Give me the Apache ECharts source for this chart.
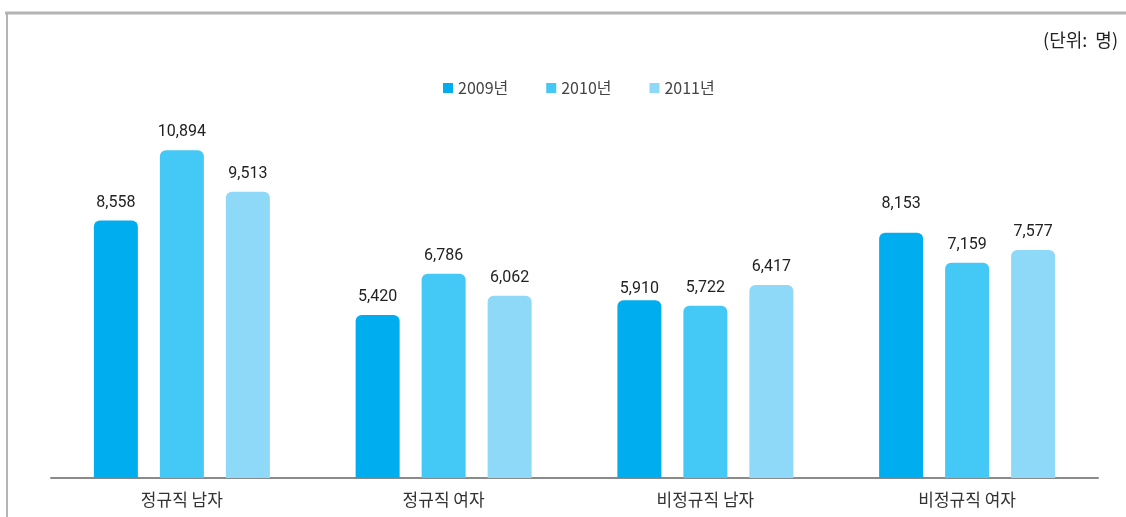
<!DOCTYPE html>
<html>
<head>
<meta charset="utf-8">
<script src="https://cdn.jsdelivr.net/npm/echarts@6/dist/echarts.min.js"></script>
<style>
  html, body { margin: 0; padding: 0; background: #fff; }
  #chart { width: 1126px; height: 517px; }
</style>
</head>
<body>
<div id="chart"></div>
<script>
// 카테고리, 연도별 값
const categories = ['정규직 남자', '정규직 여자', '비정규직 남자', '비정규직 여자'];
const years = ['2009년', '2010년', '2011년'];
const values2009 = [8558, 5420, 5910, 8153];
const values2010 = [10894, 6786, 5722, 7159];
const values2011 = [9513, 6062, 6417, 7577];
const colors = ['#00aeef', '#44c8f5', '#8ed8f8'];

const chart = echarts.init(document.getElementById('chart'));

// 원본에서 라벨 위치가 약간 다른 막대 (시리즈, 인덱스, 간격)
const labelDistance = { '0-2': 3, '0-3': 21 };

const makeSeries = (idx, data, color) => ({
    name: years[idx],
    type: 'bar',
    data: data.map((v, i) => {
        const d = labelDistance[idx + '-' + i];
        return d === undefined ? v : { value: v, label: { distance: d } };
    }),
    barWidth: 44,
    barGap: '50%',
    itemStyle: {
        color: color,
        borderRadius: [6, 6, 0, 0]
    },
    label: {
        show: true,
        position: 'top',
        distance: 10,
        color: '#222',
        fontSize: 16,
        fontFamily: 'Roboto',
        formatter: (p) => p.value.toLocaleString('en-US')
    }
});

const option = {
    animation: false,
    color: colors,
    legend: {
        top: 75,
        left: 438,
        itemWidth: 10,
        itemHeight: 10,
        itemGap: 38,
        icon: 'rect',
        textStyle: {
            color: '#444',
            fontSize: 16,
            fontFamily: 'Noto Sans CJK KR'
        },
        data: years
    },
    grid: {
        left: 51,
        right: 28,
        top: 117,
        bottom: 39
    },
    xAxis: {
        type: 'category',
        data: categories,
        axisLine: { lineStyle: { color: '#8a8a8a', width: 2 } },
        axisTick: { show: false },
        axisLabel: {
            margin: 13,
            color: '#333',
            fontSize: 17,
            fontFamily: 'Noto Sans CJK KR'
        }
    },
    yAxis: {
        type: 'value',
        min: 0,
        max: 12000,
        show: false,
        splitLine: { show: false }
    },
    graphic: [
        {
            type: 'line',
            shape: { x1: 5, y1: 13, x2: 1126, y2: 13 },
            style: { stroke: '#b4b4b4', lineWidth: 3 }
        },
        {
            type: 'line',
            shape: { x1: 7, y1: 12, x2: 7, y2: 517 },
            style: { stroke: '#b4b4b4', lineWidth: 2 }
        },
        {
            type: 'text',
            right: 8,
            top: 31,
            style: {
                text: '(단위:  명)',
                fill: '#222',
                fontSize: 18,
                fontFamily: 'Noto Sans CJK KR'
            }
        }
    ],
    series: [
        makeSeries(0, values2009, colors[0]),
        makeSeries(1, values2010, colors[1]),
        makeSeries(2, values2011, colors[2])
    ]
};

chart.setOption(option);
</script>
</body>
</html>
